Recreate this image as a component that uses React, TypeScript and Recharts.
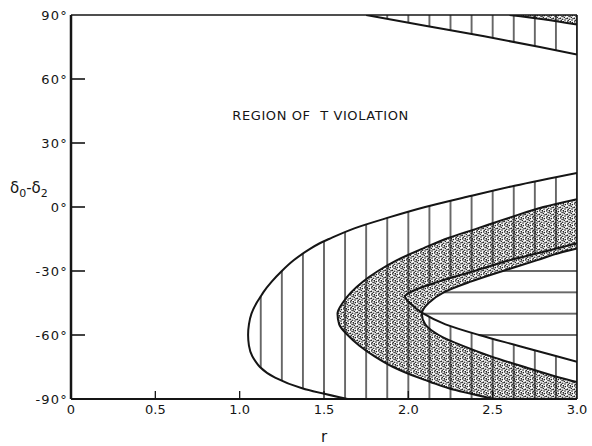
import {
  ComposedChart,
  Area,
  Line,
  XAxis,
  YAxis,
  ReferenceLine,
  ReferenceDot,
} from "recharts";

/* ---------- axes ---------- */
const rTicks = [0, 0.5, 1, 1.5, 2, 2.5, 3];
const rTickLabels = ["0", "0.5", "1.0", "1.5", "2.0", "2.5", "3.0"];
const phaseTicks = [-90, -60, -30, 0, 30, 60, 90];
const phaseTickLabels = ["-90°", "-60°", "-30°", "0°", "30°", "60°", "90°"];

/* ---------- boundaries as [δ0-δ2 (deg), r] ---------- */
// outer edge of the vertically hatched region
const outerHatch: [number, number][] = [
  [-90, 1.64], [-85, 1.37], [-80, 1.21], [-75, 1.12], [-72.5, 1.095], [-70, 1.075],
  [-65, 1.055], [-60, 1.05], [-55, 1.055], [-50, 1.07], [-45, 1.1], [-42, 1.124],
  [-40, 1.14], [-35, 1.19], [-30, 1.25], [-25, 1.32], [-20, 1.41], [-17, 1.475],
  [-15, 1.53], [-10, 1.68], [-5, 1.88], [0, 2.1], [5, 2.36], [10, 2.63], [16, 3.0],
];
// inner edge of the vertically hatched region
const innerHatch: [number, number][] = [
  [-72.5, 3.0], [-70, 2.88], [-65, 2.65], [-60, 2.42], [-55, 2.22], [-50, 2.09],
  [-45, 2.01], [-42, 1.98], [-40, 2.01], [-35, 2.18], [-30, 2.39], [-25, 2.6],
  [-20, 2.85], [-17, 3.0],
];
// hatched corner at the top right
const topHatch: [number, number][] = [
  [71.5, 3.0], [75, 2.78], [80, 2.45], [85, 2.1], [90, 1.75],
];
// outer edge of the stippled band
const outerStipple: [number, number][] = [
  [-90, 2.51], [-85, 2.24], [-82, 2.13], [-80, 2.06], [-75, 1.91], [-70, 1.8],
  [-65, 1.71], [-60, 1.64], [-55, 1.59], [-50, 1.58], [-45, 1.61], [-40, 1.66],
  [-35, 1.73], [-30, 1.82], [-25, 1.93], [-20, 2.07], [-19.5, 2.085], [-15, 2.22],
  [-10, 2.41], [-5, 2.6], [0, 2.8], [3.7, 3.0],
];
// inner edge of the stippled band
const innerStipple: [number, number][] = [
  [-82, 3.0], [-80, 2.9], [-75, 2.69], [-70, 2.49], [-65, 2.32], [-60, 2.18],
  [-55, 2.1], [-50, 2.08], [-45, 2.12], [-40, 2.21], [-35, 2.37], [-30, 2.56],
  [-25, 2.76], [-20, 2.97], [-19.5, 3.0],
];
// stippled strip at the top right
const topStipple: [number, number][] = [
  [85.5, 3.0], [88, 2.8], [90, 2.6],
];
// edge of the horizontally hatched core
const core: [number, number][] = [
  [-65, 2.65], [-60, 2.42], [-55, 2.22], [-50, 2.09], [-45, 2.12], [-40, 2.21],
  [-35, 2.37], [-30, 2.56], [-25, 2.76],
];

/* ---------- helpers ---------- */
const R_MAX = 3;
const asLine = (c: [number, number][]) => c.map(([y, x]) => ({ y, x }));
// region from an edge out to r = 3, or to an inner edge where one exists
const band = (edge: [number, number][], inner?: [number, number][]) =>
  edge.map(([y, r]) => {
    const hit = inner?.find((p) => p[0] === y);
    return { y, span: [r, hit ? hit[1] : R_MAX] };
  });

const hatchRegion = band(outerHatch, innerHatch);
const topHatchRegion = band(topHatch);
const stippleRegion = band(outerStipple, innerStipple);
const topStippleRegion = band(topStipple);
const coreRegion = band(core);

/* plot frame (px) used to line up the hatch patterns */
const LEFT = 71;
const TOP = 15;
const PW = 506;
const PH = 384;
const vStep = (0.125 / 3) * PW;
const hStep = (10 / 180) * PH;
const hFirst = TOP + (120 / 180) * PH; // -30°

const ink = "#151515";
const dotInk = "#1e1e1e";
const font = "'DejaVu Sans', sans-serif";

// stipple dots inside one pattern tile
const stippleDots = [
  [0.8, 0.9], [3.3, 0.4], [5.4, 1.6], [2.1, 2.6], [4.3, 3.5], [0.5, 4.2],
  [6.1, 4.6], [2.7, 5.2], [5.0, 6.1], [1.2, 6.3], [3.6, 2.0],
];

function RTick({ x, y, payload }: any) {
  const i = rTicks.indexOf(payload.value);
  return (
    <g>
      {i > 0 && i < rTicks.length - 1 && (
        <line x1={x} x2={x} y1={y - 6} y2={y - 14} stroke={ink} strokeWidth={1.3} />
      )}
      <text x={x} y={y} dy="0.71em" textAnchor="middle" fill={ink} fontSize={13} fontFamily={font}>
        {rTickLabels[i]}
      </text>
    </g>
  );
}

function PhaseTick({ x, y, payload }: any) {
  const i = phaseTicks.indexOf(payload.value);
  return (
    <g>
      {i > 0 && i < phaseTicks.length - 1 && (
        <line x1={x + 3} x2={x + 17} y1={y} y2={y} stroke={ink} strokeWidth={1.6} />
      )}
      <text x={x} y={y} dy="0.36em" textAnchor="end" fill={ink} fontSize={13} fontFamily={font} letterSpacing={1.2}>
        {phaseTickLabels[i]}
      </text>
    </g>
  );
}

function PhaseLabel({ viewBox }: any) {
  const y = viewBox.y + viewBox.height / 2 - 14;
  return (
    <text x={viewBox.x + 10} y={y} fill={ink} fontSize={15} fontFamily={font}>
      <tspan>δ</tspan>
      <tspan dy={4} fontSize={11}>0</tspan>
      <tspan dy={-4}>-δ</tspan>
      <tspan dy={4} fontSize={11}>2</tspan>
    </text>
  );
}

function RegionLabel({ viewBox }: any) {
  return (
    <text
      x={viewBox.x + viewBox.width / 2}
      y={viewBox.y + viewBox.height / 2}
      dy="0.36em"
      textAnchor="middle"
      fill={ink}
      fontSize={13}
      fontFamily={font}
      letterSpacing={0.6}
    >
      {"REGION OF\u00a0\u00a0T VIOLATION"}
    </text>
  );
}

export default function App() {
  return (
    <div style={{ position: "absolute", left: 0, top: 0, width: 592, height: 446, background: "#fff" }}>
      <ComposedChart
        width={592}
        height={446}
        layout="vertical"
        margin={{ top: TOP, right: 592 - LEFT - PW, bottom: 0, left: 0 }}
      >
        <defs>
          <pattern id="vHatch" patternUnits="userSpaceOnUse" x={LEFT - vStep / 2} y={0} width={vStep} height={8}>
            <line x1={vStep / 2} x2={vStep / 2} y1={0} y2={8} stroke={ink} strokeWidth={1.25} />
          </pattern>
          <pattern id="hHatch" patternUnits="userSpaceOnUse" x={0} y={hFirst - hStep / 2} width={8} height={hStep}>
            <line x1={0} x2={8} y1={hStep / 2} y2={hStep / 2} stroke={ink} strokeWidth={1.25} />
          </pattern>
          <pattern id="stipple" patternUnits="userSpaceOnUse" width={7} height={7}>
            {stippleDots.map(([cx, cy], i) => (
              <circle key={i} cx={cx} cy={cy} r={0.8} fill={dotInk} />
            ))}
          </pattern>
        </defs>

        <XAxis
          type="number"
          domain={[0, 3]}
          ticks={rTicks}
          allowDataOverflow
          height={446 - TOP - PH}
          tickSize={0}
          tickMargin={6}
          tickLine={false}
          axisLine={{ stroke: ink, strokeWidth: 2.2 }}
          tick={RTick}
          label={{ value: "r", position: "insideBottom", offset: 4, fontSize: 15, fill: ink, fontFamily: font }}
        />
        <YAxis
          type="number"
          dataKey="y"
          domain={[-90, 90]}
          ticks={phaseTicks}
          allowDataOverflow
          reversed
          width={LEFT}
          tickSize={0}
          tickMargin={3}
          tickLine={false}
          axisLine={{ stroke: ink, strokeWidth: 2.5 }}
          tick={PhaseTick}
          label={{ content: PhaseLabel }}
        />

        {/* filled regions */}
        <Area data={stippleRegion} dataKey="span" type="monotone" fill="url(#stipple)" fillOpacity={1} stroke="none" isAnimationActive={false} />
        <Area data={topStippleRegion} dataKey="span" type="monotone" fill="url(#stipple)" fillOpacity={1} stroke="none" isAnimationActive={false} />
        <Area data={hatchRegion} dataKey="span" type="monotone" fill="url(#vHatch)" fillOpacity={1} stroke="none" isAnimationActive={false} />
        <Area data={topHatchRegion} dataKey="span" type="monotone" fill="url(#vHatch)" fillOpacity={1} stroke="none" isAnimationActive={false} />
        <Area data={coreRegion} dataKey="span" type="monotone" fill="url(#hHatch)" fillOpacity={1} stroke="none" isAnimationActive={false} />

        {/* boundary curves */}
        {[outerHatch, innerHatch, topHatch, outerStipple, innerStipple, topStipple].map((c, i) => (
          <Line
            key={i}
            data={asLine(c)}
            dataKey="x"
            type="monotone"
            stroke={ink}
            strokeWidth={2}
            dot={false}
            activeDot={false}
            isAnimationActive={false}
          />
        ))}

        {/* frame */}
        <ReferenceLine x={3} stroke={ink} strokeWidth={1.6} />
        <ReferenceLine y={90} stroke={ink} strokeWidth={1.4} />

        <ReferenceDot x={1.48} y={43} r={0} fill="none" stroke="none" label={RegionLabel} />
      </ComposedChart>
    </div>
  );
}
